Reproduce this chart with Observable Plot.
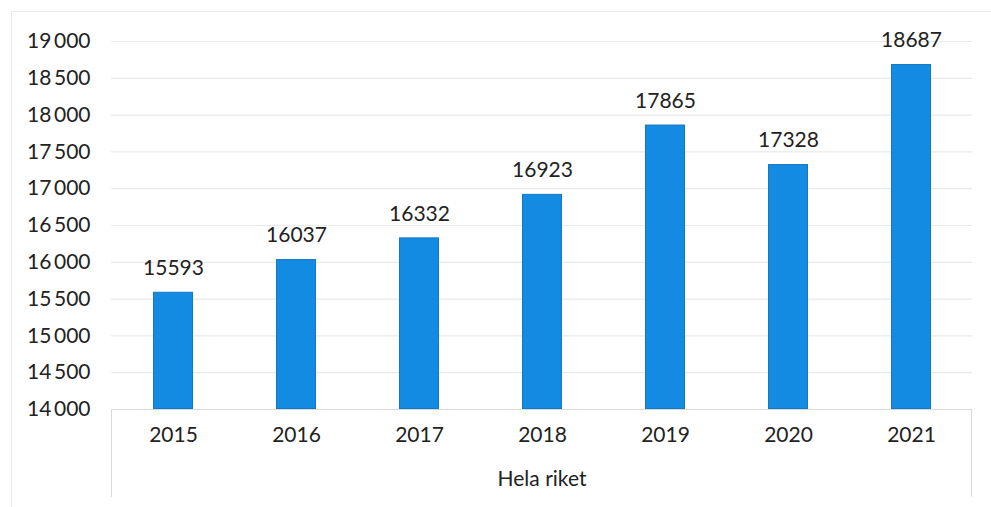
<!DOCTYPE html>
<html>
<head>
<meta charset="utf-8">
<script src="https://cdn.jsdelivr.net/npm/d3@7"></script>
<script src="https://cdn.jsdelivr.net/npm/@observablehq/plot@0.6"></script>
<style>
  html, body { margin: 0; padding: 0; background: #fff; }
  #chart { width: 991px; height: 507px; }
</style>
</head>
<body>
<div id="chart"></div>
<script>
const years = ["2015", "2016", "2017", "2018", "2019", "2020", "2021"];
const values = [15593, 16037, 16332, 16923, 17865, 17328, 18687];
const yTicks = [14000, 14500, 15000, 15500, 16000, 16500, 17000, 17500, 18000, 18500, 19000];
const groupLabel = "Hela riket";

const data = years.map((y, i) => ({year: y, value: values[i]}));
const fmt = v => d3.format(",")(v).replace(/,/g, "\u2009");

const decorations = (index, scales, values, dims) => {
  const ns = "http://www.w3.org/2000/svg";
  const g = document.createElementNS(ns, "g");
  const left = dims.marginLeft, right = dims.width - dims.marginRight;
  const bottom = dims.height - dims.marginBottom;
  const mk = (tag, attrs) => {
    const el = document.createElementNS(ns, tag);
    for (const k in attrs) el.setAttribute(k, attrs[k]);
    g.appendChild(el);
  };
  mk("rect", {x: 11.5, y: 11.5, width: 1200, height: 1200, fill: "none", stroke: "#ececec"});
  mk("line", {x1: left + 0.5, x2: left + 0.5, y1: bottom, y2: bottom + 88, stroke: "#d9d9d9"});
  mk("line", {x1: right - 0.5, x2: right - 0.5, y1: bottom, y2: bottom + 88, stroke: "#d9d9d9"});
  return g;
};

const chart = Plot.plot({
  width: 991,
  height: 507,
  marginLeft: 111,
  marginRight: 19,
  marginTop: 41,
  marginBottom: 98,
  style: {fontFamily: "Lato, 'Open Sans', sans-serif", fontSize: "21px", color: "#222", background: "#fff"},
  x: {domain: years, paddingInner: 0.675, paddingOuter: 0.3375, axis: null},
  y: {domain: [14000, 19000], axis: null},
  marks: [
    decorations,
    Plot.ruleY(yTicks.slice(1), {stroke: "#e9e9e9", strokeWidth: 1.2}),
    Plot.barY(data, {x: "year", y1: 14000, y2: "value", fill: "#138be2", stroke: "#1677c4", strokeWidth: 1, inset: 0.5}),
    Plot.ruleY([14000], {stroke: "#d9d9d9"}),
    Plot.axisY({ticks: yTicks, tickSize: 0, tickPadding: 21, tickFormat: fmt, label: null, fontSize: 21, fill: "#222"}),
    Plot.text(data, {x: "year", y: "value", text: d => String(d.value), dy: -24, fontSize: 21, fill: "#222"}),
    Plot.text(years, {x: d => d, frameAnchor: "bottom", dy: 32, fontSize: 21, fill: "#222"}),
    Plot.text([groupLabel], {frameAnchor: "bottom", dy: 76, fontSize: 21, fill: "#222"})
  ]
});
document.getElementById("chart").appendChild(chart);
</script>
</body>
</html>
